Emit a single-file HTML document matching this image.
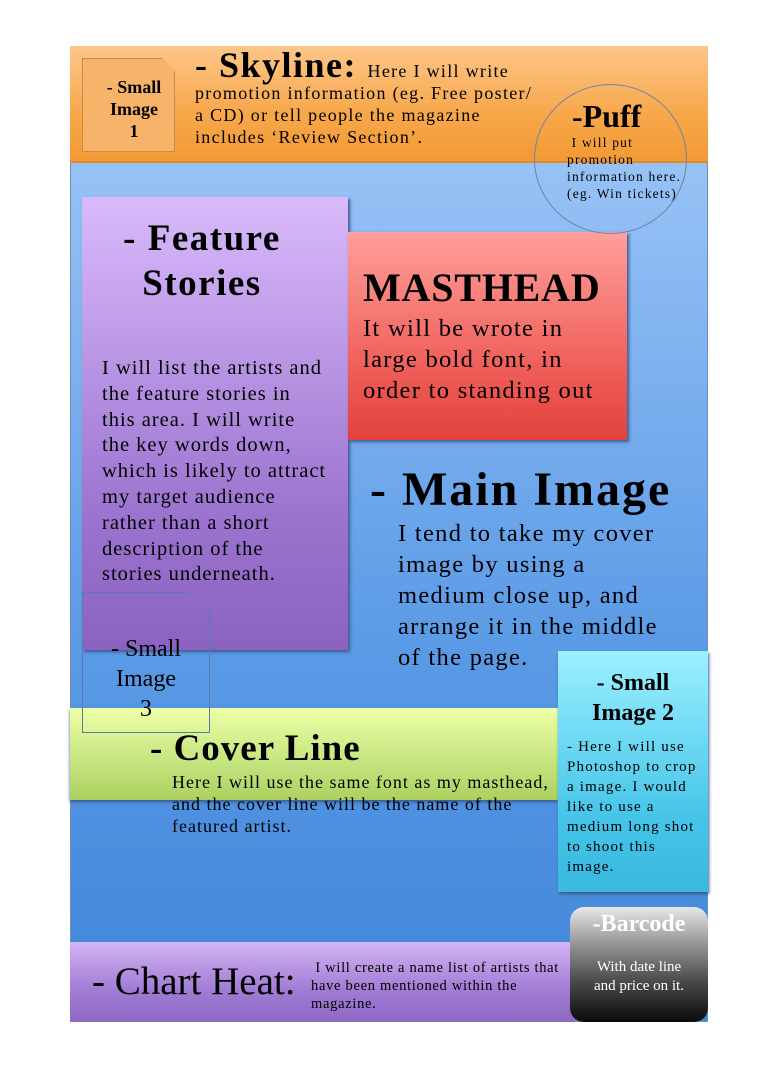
<!DOCTYPE html>
<html><head><meta charset="utf-8"><style>
body{margin:0;width:768px;height:1087px;background:#fff;position:relative;overflow:hidden;font-family:"Liberation Serif","DejaVu Serif",serif;color:#000}
.a{position:absolute;box-sizing:border-box;white-space:nowrap}
</style></head><body>
<div class="a" style="left:70px;top:46px;width:638px;height:976px;background:linear-gradient(#a6ccfa,#5c9be6 60%,#3f85d8);border:1px solid #6f8fb8"></div>
<div class="a" style="left:70px;top:46px;width:638px;height:117px;background:linear-gradient(#fdc68a,#f7a74a 60%,#f29a35);border-bottom:2px solid #e0892c"></div>
<div class="a" style="left:82px;top:58px;width:93px;height:94px;background:#f7b36a;border:1px solid #c98a4a;clip-path:polygon(0 0,86% 0,100% 14%,100% 100%,0 100%)"></div>
<div class="a" style="left:82px;top:76px;width:104px;text-align:center;font-weight:bold;font-size:18px;line-height:22px">- Small<br>Image<br>1</div>
<div class="a" style="left:195px;top:54px;font-size:18px;line-height:22px;letter-spacing:1.3px"><span style="font-size:36px;font-weight:bold;letter-spacing:1.5px">- Skyline: </span>Here I will write<br>promotion information (eg. Free poster/<br>a CD) or tell people the magazine<br>includes ‘Review Section’.</div>
<div class="a" style="left:82px;top:197px;width:266px;height:453px;background:linear-gradient(#d9bafb,#9b74cf 70%,#8b62c0);box-shadow:2px 2px 3px #3b5a90"></div>
<div class="a" style="left:97px;top:216px;width:210px;text-align:center;font-weight:bold;font-size:37px;line-height:45px;letter-spacing:1.5px">- Feature<br>Stories</div>
<div class="a" style="left:102px;top:356px;font-size:20.5px;line-height:25.8px;letter-spacing:1px">I will list the artists and<br>the feature stories in<br>this area. I will write<br>the key words down,<br>which is likely to attract<br>my target audience<br>rather than a short<br>description of the<br>stories underneath.</div>
<div class="a" style="left:348px;top:232px;width:279px;height:208px;background:linear-gradient(#ff9f9b,#ee5a55 70%,#e2423c);box-shadow:2px 2px 3px #3b5a90"></div>
<div class="a" style="left:363px;top:264px;font-weight:bold;font-size:40px;letter-spacing:0.8px">MASTHEAD</div>
<div class="a" style="left:363px;top:313px;font-size:24.5px;line-height:31px;letter-spacing:1.3px">It will be wrote in<br>large bold font, in<br>order to standing out</div>
<div class="a" style="left:534px;top:84px;width:153px;height:150px;border-radius:50%;border:1px solid #6f82a6"></div>
<div class="a" style="left:572px;top:98px;font-weight:bold;font-size:32px">-Puff</div>
<div class="a" style="left:567px;top:134px;font-size:13.5px;line-height:17px;letter-spacing:1.2px">&nbsp;I will put<br>promotion<br>information here.<br>(eg. Win tickets)</div>
<div class="a" style="left:370px;top:462px;font-size:48px;font-weight:bold;letter-spacing:2px">- Main Image</div>
<div class="a" style="left:398px;top:518px;font-size:24.5px;line-height:31px;letter-spacing:1.3px">I tend to take my cover<br>image by using a<br>medium close up, and<br>arrange it in the middle<br>of the page.</div>
<div class="a" style="left:70px;top:708px;width:488px;height:92px;background:linear-gradient(#eeffa8,#c4e47e 60%,#acd060);box-shadow:0 2px 3px #3b5a90"></div>
<div class="a" style="left:82px;top:592px;width:128px;height:141px;border:1px solid #5a7bb0;clip-path:polygon(0 0,83% 0,100% 12%,100% 100%,0 100%)"></div>
<div class="a" style="left:82px;top:634px;width:128px;text-align:center;font-size:24px;line-height:30px">- Small<br>Image<br>3</div>
<div class="a" style="left:150px;top:727px;font-size:37px;font-weight:bold;letter-spacing:1px">- Cover Line</div>
<div class="a" style="left:172px;top:771px;font-size:18px;line-height:22px;letter-spacing:1px">Here I will use the same font as my masthead,<br>and the cover line will be the name of the<br>featured artist.</div>
<div class="a" style="left:558px;top:651px;width:150px;height:241px;background:linear-gradient(#9cf0ff,#45c4e8 70%,#3ab8e0);box-shadow:1px 2px 3px #3b5a90"></div>
<div class="a" style="left:558px;top:668px;width:150px;text-align:center;font-weight:bold;font-size:24px;line-height:30px">- Small<br>Image 2</div>
<div class="a" style="left:567px;top:737px;font-size:15px;line-height:20px;letter-spacing:1.2px">- Here I will use<br>Photoshop to crop<br>a image. I would<br>like to use a<br>medium long shot<br>to shoot this<br>image.</div>
<div class="a" style="left:70px;top:942px;width:505px;height:80px;background:linear-gradient(#d4b5f4,#a07cd4 60%,#8e68c4)"></div>
<div class="a" style="left:92px;top:959px;font-size:39px">- Chart Heat:</div>
<div class="a" style="left:311px;top:959px;font-size:14.5px;line-height:18px;letter-spacing:0.7px">&nbsp;I will create a name list of artists that<br>have been mentioned within the<br>magazine.</div>
<div class="a" style="left:570px;top:907px;width:138px;height:115px;border-radius:14px;background:linear-gradient(#e8e8e8,#9a9a9a 30%,#4a4a4a 65%,#0a0a0a)"></div>
<div class="a" style="left:570px;top:911px;width:138px;text-align:center;color:#fff;font-weight:bold;font-size:24px">-Barcode</div>
<div class="a" style="left:570px;top:958px;width:138px;text-align:center;color:#fff;font-size:15px;line-height:19px">With date line<br>and price on it.</div>
</body></html>
